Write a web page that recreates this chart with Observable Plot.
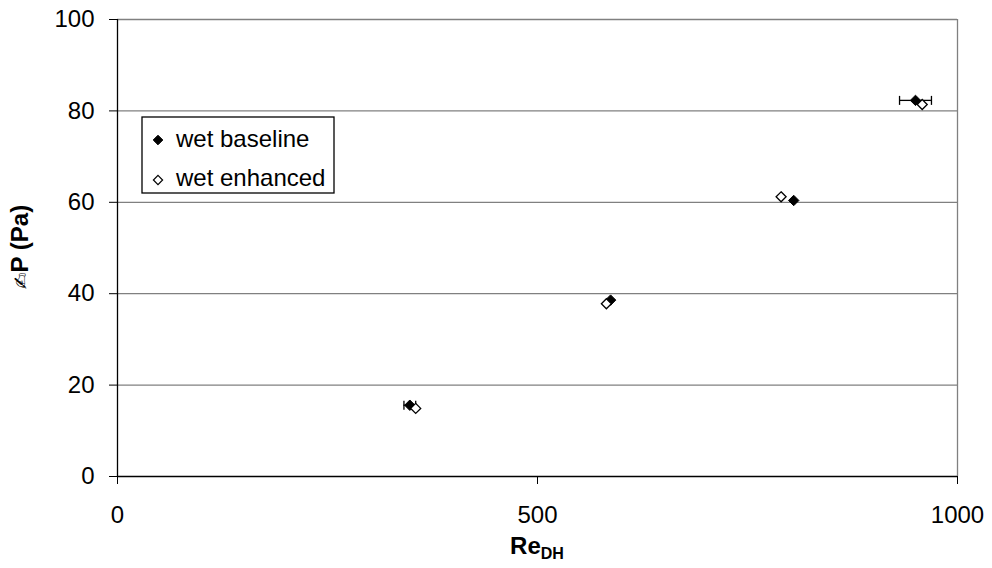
<!DOCTYPE html>
<html><head><meta charset="utf-8">
<script src="https://cdn.jsdelivr.net/npm/d3@7"></script>
<script src="https://cdn.jsdelivr.net/npm/@observablehq/plot@0.6"></script>
<style>body{margin:0;background:#fff;} #chart{width:992px;height:568px;}</style>
</head><body><div id="chart"></div>
<script>
const seriesNames = ["wet baseline", "wet enhanced"];
const baselineRe = [348, 587, 805, 950];
const baselineDP = [15.6, 38.6, 60.4, 82.3];
const baselineErr = [7, 0, 0, 19];
const enhancedRe = [355, 582, 790, 958];
const enhancedDP = [14.9, 37.8, 61.2, 81.4];
const xTicks = [0, 500, 1000];
const yTicks = [0, 20, 40, 60, 80, 100];

const baseline = baselineRe.map((re, i) => ({re, dp: baselineDP[i], err: baselineErr[i]}));
const enhanced = enhancedRe.map((re, i) => ({re, dp: enhancedDP[i]}));
const errBars = baseline.filter(d => d.err > 0);
const caps = errBars.flatMap(d => [{re: d.re - d.err, dp: d.dp}, {re: d.re + d.err, dp: d.dp}]);
const capSymbol = {draw(ctx) { ctx.moveTo(0, -4.5); ctx.lineTo(0, 4.5); }};

const font = "'Liberation Sans', Arial, sans-serif";
const svg = Plot.plot({
  width: 992, height: 568,
  marginLeft: 117, marginRight: 35, marginTop: 19, marginBottom: 92,
  style: {fontFamily: font, fontSize: "24px", color: "black", background: "white"},
  x: {domain: [0, 1000]},
  y: {domain: [0, 100]},
  marks: [
    Plot.ruleY(yTicks.filter(d => d > 0), {stroke: "#808080", strokeWidth: 1.3}),
    Plot.ruleX([1000], {stroke: "#808080", strokeWidth: 1.3}),
    Plot.ruleX([0], {stroke: "black", strokeWidth: 1.3}),
    Plot.ruleY([0], {stroke: "black", strokeWidth: 1.3}),
    Plot.axisX({ticks: xTicks, tickSize: 8, tickPadding: 21, fontSize: 24, label: null, tickFormat: d => String(d)}),
    Plot.axisY({ticks: yTicks, tickSize: 8, tickPadding: 15, fontSize: 24, label: null}),
    Plot.ruleY(errBars, {y: "dp", x1: d => d.re - d.err, x2: d => d.re + d.err, stroke: "black", strokeWidth: 1.3}),
    Plot.dot(caps, {x: "re", y: "dp", symbol: capSymbol, r: 4, stroke: "black", fill: "none", strokeWidth: 1.3}),
    Plot.dot(baseline, {x: "re", y: "dp", symbol: "diamond2", r: 4.7, fill: "black", stroke: "black", strokeWidth: 1}),
    Plot.dot(enhanced, {x: "re", y: "dp", symbol: "diamond2", r: 4.5, fill: "white", stroke: "black", strokeWidth: 1.3})
  ]
});

const s = d3.select(svg);
// x title
const xt = s.append("text").attr("x", 537).attr("y", 554).attr("text-anchor", "middle")
  .attr("font-family", font).attr("font-size", 24).attr("font-weight", "bold").attr("fill", "black");
xt.append("tspan").text("Re");
xt.append("tspan").attr("font-size", 16).attr("dy", 5).text("DH");
// y title
const yt = s.append("text").attr("transform", "translate(28,247) rotate(-90)").attr("text-anchor", "middle")
  .attr("font-family", font).attr("font-size", 24).attr("font-weight", "bold").attr("fill", "black");
yt.append("tspan").attr("font-weight", "normal").attr("font-size", 20).attr("font-family", "DejaVu Sans").text("✍");
yt.append("tspan").text("P (Pa)");
// legend
const lg = s.append("g").attr("text-anchor", "start");
lg.append("rect").attr("x", 142).attr("y", 117).attr("width", 192).attr("height", 76)
  .attr("fill", "white").attr("stroke", "black").attr("stroke-width", 1.3);
const dia = (cx, cy, h) => `M${cx},${cy - h}L${cx + h},${cy}L${cx},${cy + h}L${cx - h},${cy}Z`;
lg.append("path").attr("d", dia(158, 140, 4.8)).attr("fill", "black").attr("stroke", "black");
lg.append("path").attr("d", dia(158, 180, 4.6)).attr("fill", "white").attr("stroke", "black").attr("stroke-width", 1.2);
seriesNames.forEach((n, i) => {
  lg.append("text").attr("x", 176).attr("y", 147 + i * 39).attr("text-anchor", "start")
    .attr("font-family", font).attr("font-size", 24).attr("fill", "black").text(n);
});
document.getElementById("chart").appendChild(svg);
</script>
</body></html>
